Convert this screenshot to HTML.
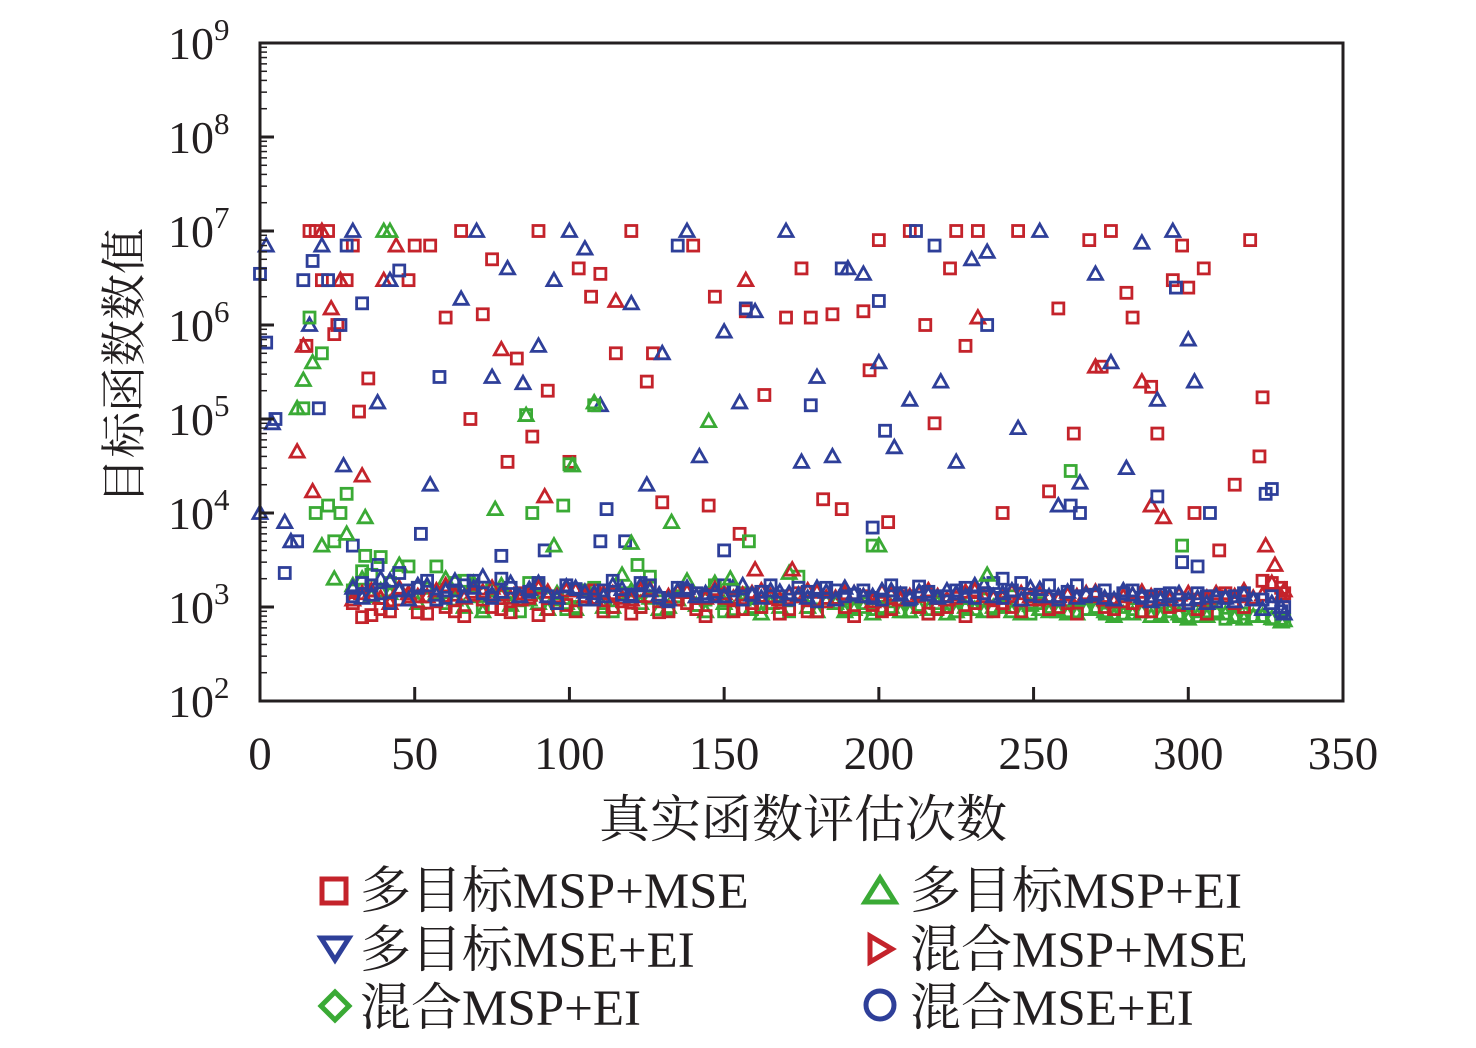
<!DOCTYPE html>
<html><head><meta charset="utf-8">
<style>
body{margin:0;background:#fff;}
svg text{font-family:"Liberation Serif","Noto Serif CJK SC",serif;fill:#231f20;}
</style></head>
<body>
<svg id="chart" width="1476" height="1043" viewBox="0 0 1476 1043" xmlns="http://www.w3.org/2000/svg">
<g id="marks"></g>
<rect x="260" y="43" width="1083" height="658" fill="none" stroke="#231f20" stroke-width="3"/>
<g id="axes"></g>
<text x="803" y="837" font-size="51" text-anchor="middle">真实函数评估次数</text>
<text transform="translate(140,366) rotate(-90)" font-size="46" text-anchor="middle">目标函数数值</text>
<g font-size="51">
 <g><rect x="322" y="879" width="24" height="24" fill="none" stroke="#c4232b" stroke-width="5"/><text x="360" y="908">多目标MSP+MSE</text></g>
 <g><polygon points="880,878 895,902 865,902" fill="none" stroke="#3aaa35" stroke-width="5"/><text x="910" y="908">多目标MSP+EI</text></g>
 <g><polygon points="321,938 349,938 335,960" fill="none" stroke="#2e3f99" stroke-width="5"/><text x="360" y="967">多目标MSE+EI</text></g>
 <g><polygon points="870,936 892,949 870,962" fill="none" stroke="#c4232b" stroke-width="5"/><text x="910" y="967">混合MSP+MSE</text></g>
 <g><polygon points="335,992 349,1006 335,1020 321,1006" fill="none" stroke="#3aaa35" stroke-width="5"/><text x="360" y="1025">混合MSP+EI</text></g>
 <g><circle cx="880" cy="1005" r="14" fill="none" stroke="#2e3f99" stroke-width="5"/><text x="910" y="1025">混合MSE+EI</text></g>
</g>
</svg>
<script>
const xTicks=[0,50,100,150,200,250,300,350];
const yExps=[2,3,4,5,6,7,8,9];
const clusterX=[30,36,42,48,54,60,66,72,78,84,90,96,102,108,114,120,126,132,138,144,150,156,162,168,174,180,186,192,198,204,210,216,222,228,234,240,246,252,258,264,270,276,282,288,294,300,306,312,318,324,330];
const clusterX2=[33,39,45,51,57,63,69,75,81,87,93,99,105,111,117,123,129,135,141,147,153,159,165,171,177,183,189,195,201,207,213,219,225,231,237,243,249,255,261,267,273,279,285,291,297,303,309,315,321,327,331];
const redSqCluster=[1100,820,900,1300,850,1000,800,1200,950,1400,820,1100,900,1500,1000,850,1300,900,1100,800,1250,950,1000,850,1400,900,1200,800,1050,950,1300,850,1000,800,1400,1100,900,1200,1000,850,1300,950,1100,900,1000,1200,850,1400,1000,1900,1600];
const redSqCluster2=[780,950,1200,880,1150,900,1350,1000,880,1250,950,1050,1300,900,1150,1000,880,1200,950,1350,900,1100,1250,950,900,1150,1000,1300,900,1200,1000,950,1250,1100,900,1000,1200,950,1100,1300,1000,1150,900,1250,1050,950,1300,1100,1200,1800,1400];
const redTriCluster=[1200,1500,1100,1400,1300,1700,1250,1450,1350,1200,1600,1300,1500,1250,1400,1200,1550,1300,1450,1250,1400,1350,1500,1200,1300,1450,1250,1400,1150,1350,1300,1500,1200,1450,1300,1250,1400,1350,1200,1300,1450,1150,1350,1300,1200,1400,1250,1300,1500,1350,1300];
const redTriCluster2=[1400,1250,1600,1300,1500,1350,1450,1600,1250,1350,1450,1500,1300,1400,1250,1500,1350,1450,1300,1550,1250,1400,1300,1350,1500,1250,1400,1300,1450,1200,1400,1300,1350,1500,1250,1450,1300,1250,1350,1400,1200,1300,1450,1250,1350,1200,1400,1300,1250,1800,1500];
const blueSqCluster=[1300,1700,1100,1500,1900,1250,1700,1400,2000,1300,1800,1100,1550,1200,1900,1350,1700,1150,1500,1300,1700,1200,1450,1300,1600,1150,1500,1350,1250,1700,1200,1450,1300,1600,1400,1250,1800,1300,1200,1700,1350,1200,1500,1300,1400,1100,1300,1250,1400,1200,900];
const blueSqCluster2=[1800,1400,2300,1600,1200,1500,1900,1250,1600,1450,1300,1700,1200,1500,1350,1800,1250,1600,1400,1300,1500,1350,1700,1200,1450,1600,1300,1500,1200,1400,1650,1300,1500,1250,1800,1500,1350,1700,1450,1300,1500,1400,1250,1350,1200,1400,1150,1300,1200,1300,1000];
const blueTriCluster=[1600,1350,1900,1200,1700,1500,1300,2100,1450,1300,1800,1250,1600,1400,1700,1300,1500,1200,1600,1400,1300,1700,1250,1450,1350,1600,1200,1400,1300,1500,1250,1350,1500,1300,1700,1400,1200,1550,1300,1250,1400,1200,1350,1150,1300,1200,1100,1250,1350,950,1000];
const blueTriCluster2=[1250,2000,1500,1700,1350,1900,1600,1350,1800,1550,1300,1650,1450,1300,1550,1700,1350,1500,1300,1450,1650,1350,1500,1400,1250,1450,1600,1300,1500,1350,1450,1250,1400,1700,1300,1500,1600,1300,1450,1350,1250,1500,1300,1200,1400,1250,1300,1150,1200,1100,850];
const greenSqCluster=[1500,2200,1800,2700,1300,1100,1900,1000,1400,900,1700,1200,1000,1600,900,1300,2100,950,1500,1200,900,1400,1000,1200,2100,900,1100,1000,950,1150,900,850,1000,950,1200,1000,900,1100,950,900,1000,850,950,900,1050,800,900,750,850,800,750];
const greenSqCluster2=[2400,3400,1200,1600,2700,1800,1300,1500,1100,1800,1250,950,1500,1100,1400,1000,1150,1300,1050,1700,1200,950,1100,900,1000,1250,950,1100,1000,900,1050,1000,900,1100,950,1300,850,1000,900,950,850,1000,900,850,800,900,850,800,800,750,720];
const greenTriCluster=[1700,1300,1400,1200,1600,2000,1000,900,1700,1300,1100,1400,950,1200,1000,1500,1250,1000,1900,900,1100,1200,850,1000,1300,900,1100,950,850,1000,900,950,850,1000,900,1050,850,950,900,850,950,800,850,800,900,750,800,850,750,800,700];
const greenTriCluster2=[2000,1500,2800,1100,1400,1200,1800,1350,1050,1200,950,1100,1300,1000,2200,1100,950,1200,1050,1800,950,1000,1100,2300,1000,1150,900,1000,950,900,1000,1100,900,950,1000,900,1050,900,850,950,900,850,900,800,850,800,900,780,800,760,720];
const redSqX=[15,16,18,20,22,24,25,28,30,32,35,48,50,55,60,65,68,72,75,80,83,88,90,93,100,103,107,110,115,120,125,127,130,140,145,147,155,157,163,170,175,178,182,185,188,195,197,200,203,210,215,218,223,225,228,232,240,245,255,258,263,268,272,275,280,282,288,290,295,298,300,302,305,310,315,320,323,324];
const redSqY=[6e5,1e7,1e7,3e6,1e7,8e5,1e6,3e6,7e6,1.2e5,2.7e5,3e6,7e6,7e6,1.2e6,1e7,1e5,1.3e6,5e6,3.5e4,4.4e5,6.5e4,1e7,2e5,3.5e4,4e6,2e6,3.5e6,5e5,1e7,2.5e5,5e5,1.3e4,7e6,1.2e4,2e6,6e3,1.4e6,1.8e5,1.2e6,4e6,1.2e6,1.4e4,1.3e6,1.1e4,1.4e6,3.3e5,8e6,8e3,1e7,1e6,9e4,4e6,1e7,6e5,1e7,1e4,1e7,1.7e4,1.5e6,7e4,8e6,3.6e5,1e7,2.2e6,1.2e6,2.2e5,7e4,3e6,7e6,2.5e6,1e4,4e6,4e3,2e4,8e6,4e4,1.7e5];
const redTriX=[12,14,17,20,23,26,33,40,44,78,92,115,157,160,172,232,270,285,288,292,325,328];
const redTriY=[4.5e4,6e5,1.7e4,1e7,1.5e6,3e6,2.5e4,3e6,7e6,5.5e5,1.5e4,1.8e6,3e6,2.5e3,2.5e3,1.2e6,3.6e5,2.5e5,1.2e4,9e3,4.5e3,2.8e3];
const blueSqX=[0,2,5,8,12,14,17,19,22,26,28,30,33,38,45,52,58,78,92,110,112,118,135,150,157,178,188,198,200,202,212,218,235,240,262,265,290,296,298,303,307,325,327];
const blueSqY=[3.5e6,6.5e5,1e5,2.3e3,5e3,3e6,4.8e6,1.3e5,3e6,1e6,7e6,4.5e3,1.7e6,2.8e3,3.8e6,6e3,2.8e5,3.5e3,4e3,5e3,1.1e4,5e3,7e6,4e3,1.5e6,1.4e5,4e6,7e3,1.8e6,7.5e4,1e7,7e6,1e6,2e3,1.2e4,1e4,1.5e4,2.5e6,3e3,2.7e3,1e4,1.6e4,1.8e4];
const blueTriX=[0,2,4,8,10,16,20,27,30,38,42,55,65,70,75,80,85,90,95,100,105,110,120,125,130,138,142,150,155,160,170,175,180,185,190,195,200,205,210,220,225,230,235,245,252,258,265,270,275,280,285,290,295,300,302];
const blueTriY=[1e4,7e6,9e4,8e3,5e3,1e6,7e6,3.2e4,1e7,1.5e5,3e6,2e4,1.9e6,1e7,2.8e5,4e6,2.4e5,6e5,3e6,1e7,6.5e6,1.4e5,1.7e6,2e4,5e5,1e7,4e4,8.5e5,1.5e5,1.4e6,1e7,3.5e4,2.8e5,4e4,4e6,3.5e6,4e5,5e4,1.6e5,2.5e5,3.5e4,5e6,6e6,8e4,1e7,1.2e4,2.1e4,3.5e6,4e5,3e4,7.5e6,1.6e5,1e7,7e5,2.5e5];
const greenSqX=[14,16,18,20,22,24,26,28,34,86,88,98,100,108,122,158,198,262,298];
const greenSqY=[1.3e5,1.2e6,1e4,5e5,1.2e4,5e3,1e4,1.6e4,3.5e3,1.1e5,1e4,1.2e4,3.3e4,1.4e5,2.8e3,5e3,4.5e3,2.8e4,4.5e3];
const greenTriX=[12,14,17,20,24,28,34,40,42,76,86,95,101,108,120,133,145,152,200,235];
const greenTriY=[1.3e5,2.6e5,4e5,4.5e3,2e3,6e3,9e3,1e7,1e7,1.1e4,1.1e5,4.5e3,3.2e4,1.5e5,4.8e3,8e3,9.5e4,2e3,4.5e3,2.2e3];

const X0=260,X1=1343,Y0=701,Y1=43;
function xs(v){return X0+(v-0)/350*(X1-X0);}
function ys(v){return Y0-(Math.log10(v)-2)/7*(Y0-Y1);}
const NS="http://www.w3.org/2000/svg";
const marks=document.getElementById('marks');
const axes=document.getElementById('axes');
function mk(tag,attrs,parent){const e=document.createElementNS(NS,tag);for(const k in attrs)e.setAttribute(k,attrs[k]);parent.appendChild(e);return e;}

function drawSeries(xa,ya,shape,color,name){
  for(let i=0;i<xa.length&&i<ya.length;i++){
    const cx=xs(xa[i]),cy=ys(ya[i]);
    let el;
    if(shape==='sq') el=mk('rect',{x:cx-5.5,y:cy-5.5,width:11,height:11,fill:'none',stroke:color,'stroke-width':2.8},marks);
    else el=mk('polygon',{points:`${cx},${cy-7} ${cx+7},${cy+5.5} ${cx-7},${cy+5.5}`,fill:'none',stroke:color,'stroke-width':2.8},marks);
    
    
  }
}
const R='#c4232b',G='#3aaa35',B='#2e3f99';
drawSeries(clusterX,greenSqCluster,'sq',G,'point-green-square');
drawSeries(clusterX2,greenSqCluster2,'sq',G,'point-green-square');
drawSeries(clusterX,greenTriCluster,'tri',G,'point-green-triangle');
drawSeries(clusterX2,greenTriCluster2,'tri',G,'point-green-triangle');
drawSeries(clusterX,redSqCluster,'sq',R,'point-red-square');
drawSeries(clusterX2,redSqCluster2,'sq',R,'point-red-square');
drawSeries(clusterX,redTriCluster,'tri',R,'point-red-triangle');
drawSeries(clusterX2,redTriCluster2,'tri',R,'point-red-triangle');
drawSeries(clusterX,blueSqCluster,'sq',B,'point-blue-square');
drawSeries(clusterX2,blueSqCluster2,'sq',B,'point-blue-square');
drawSeries(clusterX,blueTriCluster,'tri',B,'point-blue-triangle');
drawSeries(clusterX2,blueTriCluster2,'tri',B,'point-blue-triangle');
drawSeries(redSqX,redSqY,'sq',R,'point-red-square');
drawSeries(redTriX,redTriY,'tri',R,'point-red-triangle');
drawSeries(blueSqX,blueSqY,'sq',B,'point-blue-square');
drawSeries(blueTriX,blueTriY,'tri',B,'point-blue-triangle');
drawSeries(greenSqX,greenSqY,'sq',G,'point-green-square');
drawSeries(greenTriX,greenTriY,'tri',G,'point-green-triangle');

xTicks.forEach(t=>{
  const x=xs(t);
  const tk=mk('line',{x1:x,y1:Y0,x2:x,y2:Y0-14,stroke:'#231f20','stroke-width':3},axes);
  
  
  const tx=mk('text',{x:x,y:769,'font-size':47,'text-anchor':'middle'},axes);
  tx.textContent=t;
  
  
});
yExps.forEach(e=>{
  const y=ys(Math.pow(10,e));
  const tk=mk('line',{x1:X0,y1:y,x2:X0+14,y2:y,stroke:'#231f20','stroke-width':3},axes);
  
  
  if(e<9){for(let m=2;m<=9;m++){const ym=ys(m*Math.pow(10,e));
    const mt=mk('line',{x1:X0,y1:ym,x2:X0+7,y2:ym,stroke:'#231f20','stroke-width':1.5},axes);
    
    }}
  const tx=mk('text',{x:168,y:y+16,'font-size':46},axes);
  tx.textContent='10';
  const sp=mk('tspan',{dy:-19,'font-size':31},tx);
  sp.textContent=e;
  
  
});
</script>
</body></html>
